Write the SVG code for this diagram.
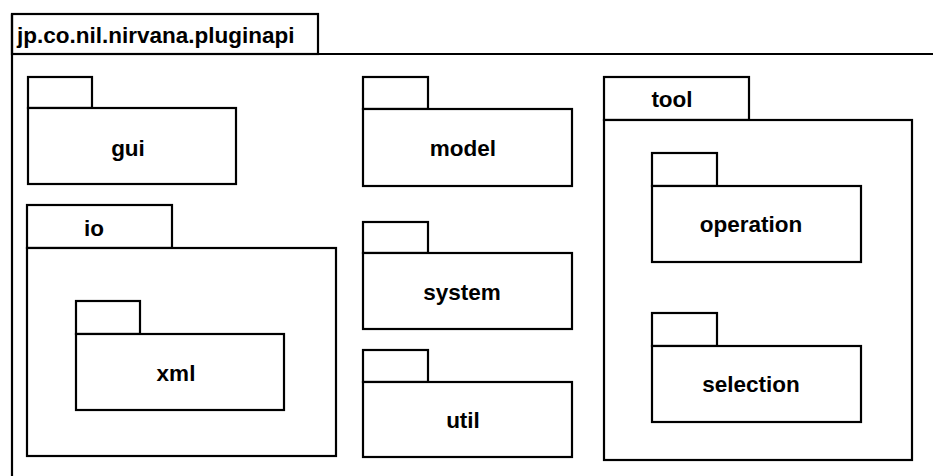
<svg xmlns="http://www.w3.org/2000/svg" width="933" height="476" viewBox="0 0 933 476">
<style>
.s{fill:#fff;stroke:#000;stroke-width:2.2}
.t{font-family:"Liberation Sans",Arial,sans-serif;font-weight:bold;font-size:22.5px;fill:#000}
.c{text-anchor:middle}
</style>
<rect width="933" height="476" fill="#fff"/>
<g id="pluginapi">
<rect class="s" x="12" y="14" width="306" height="40"/>
<path class="s" d="M12 54 H934 M12 14 V477" fill="none"/>
<text class="t" x="17" y="43">jp.co.nil.nirvana.pluginapi</text>
</g>
<g id="gui">
<rect class="s" x="28" y="77" width="64" height="31"/>
<rect class="s" x="28" y="108" width="208" height="76"/>
<text class="t c" x="128" y="156">gui</text>
</g>
<g id="model">
<rect class="s" x="363" y="77" width="65" height="32"/>
<rect class="s" x="363" y="109" width="209" height="77"/>
<text class="t c" x="463" y="156">model</text>
</g>
<g id="tool">
<rect class="s" x="604" y="77" width="145" height="43"/>
<rect class="s" x="604" y="120" width="308" height="340"/>
<text class="t c" x="672" y="107">tool</text>
</g>
<g id="operation">
<rect class="s" x="652" y="153" width="65" height="33"/>
<rect class="s" x="652" y="186" width="209" height="76"/>
<text class="t c" x="751" y="232">operation</text>
</g>
<g id="selection">
<rect class="s" x="652" y="313" width="65" height="33"/>
<rect class="s" x="652" y="346" width="209" height="76"/>
<text class="t c" x="751" y="392">selection</text>
</g>
<g id="io">
<rect class="s" x="27" y="205" width="145" height="43"/>
<rect class="s" x="27" y="248" width="309" height="208"/>
<text class="t c" x="94" y="236">io</text>
</g>
<g id="xml">
<rect class="s" x="76" y="301" width="64" height="33"/>
<rect class="s" x="76" y="334" width="208" height="76"/>
<text class="t c" x="176" y="381">xml</text>
</g>
<g id="system">
<rect class="s" x="363" y="222" width="65" height="31"/>
<rect class="s" x="363" y="253" width="209" height="76"/>
<text class="t c" x="462" y="300">system</text>
</g>
<g id="util">
<rect class="s" x="363" y="350" width="65" height="32"/>
<rect class="s" x="363" y="382" width="209" height="75"/>
<text class="t c" x="463" y="428">util</text>
</g>
<g id="connectors"/>
</svg>
